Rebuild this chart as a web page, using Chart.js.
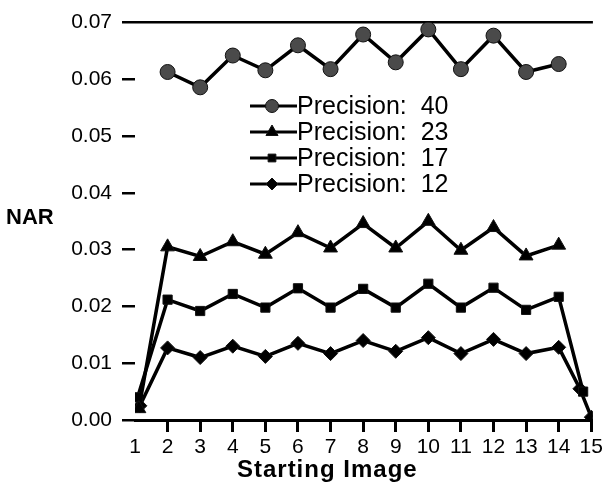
<!DOCTYPE html>
<html lang="en">

<head>
    <meta charset="UTF-8">
    <meta name="viewport" content="width=device-width, initial-scale=1.0">
    <script src="https://cdn.jsdelivr.net/npm/chart.js"></script>
    <title>NAR vs Starting Image</title>
    <style>
        body { margin: 0; background: #fff; }
        .graph { width: 606px; height: 489px; }
    </style>
</head>

<body>
    <div class="graph">
        <canvas id="myChartCanvas"></canvas>
    </div>
</body>

</html>
<script>

    // valores
    const xTicks = [1, 2, 3, 4, 5, 6, 7, 8, 9, 10, 11, 12, 13, 14, 15];
    const yTicks = [0, 0.01, 0.02, 0.03, 0.04, 0.05, 0.06, 0.07];

    const p40X = [2, 3, 4, 5, 6, 7, 8, 9, 10, 11, 12, 13, 14];
    const p40Y = [0.0613, 0.0586, 0.0642, 0.0616, 0.0660, 0.0618, 0.0679, 0.0630, 0.0688, 0.0618, 0.0677, 0.0613, 0.0627];

    const p23X = [1.12, 2, 3, 4, 5, 6, 7, 8, 9, 10, 11, 12, 13, 14];
    const p23Y = [0.0020, 0.0305, 0.0288, 0.0314, 0.0292, 0.0330, 0.0303, 0.0346, 0.0303, 0.0350, 0.0299, 0.0339, 0.0289, 0.0308];

    const p17X = [1.08, 2, 3, 4, 5, 6, 7, 8, 9, 10, 11, 12, 13, 14, 14.75];
    const p17Y = [0.0040, 0.0212, 0.0192, 0.0222, 0.0198, 0.0232, 0.0198, 0.0231, 0.0198, 0.0240, 0.0198, 0.0233, 0.0194, 0.0217, 0.0050];

    const p12X = [1.15, 2, 3, 4, 5, 6, 7, 8, 9, 10, 11, 12, 13, 14, 14.65, 15];
    const p12Y = [0.0025, 0.0127, 0.0110, 0.0130, 0.0112, 0.0135, 0.0117, 0.0140, 0.0121, 0.0145, 0.0117, 0.0142, 0.0117, 0.0128, 0.0055, 0.0005];

    const seriesLabels = ['Precision:  40', 'Precision:  23', 'Precision:  17', 'Precision:  12'];

    const fonte = "'Liberation Sans', Arial, Helvetica, sans-serif";

    function pontos(xs, ys) {
        let lista = [];
        for (let i = 0; i < xs.length; i++) {
            lista.push({ x: xs[i], y: ys[i] });
        }
        return lista;
    }

    function serie(label, data, estilo, raio, fundo) {
        return {
            label: label,
            data: data,
            borderColor: '#000',
            borderWidth: 3.5,
            tension: 0,
            pointStyle: estilo,
            pointRadius: raio,
            pointHoverRadius: raio,
            pointBackgroundColor: fundo,
            pointBorderColor: '#111',
            pointBorderWidth: 1
        };
    }

    // textos soltos (NAR, titulo do eixo x) e legenda dentro do grafico
    const extras = {
        id: 'extras',
        afterDraw(chart) {
            const ctx = chart.ctx;
            const x = chart.scales.x;
            const y = chart.scales.y;
            ctx.save();
            ctx.fillStyle = '#000';
            ctx.font = 'bold 22px ' + fonte;
            ctx.textBaseline = 'middle';
            ctx.textAlign = 'left';
            ctx.fillText('NAR', 6, y.getPixelForValue(0.0356));
            ctx.font = 'bold 24px ' + fonte;
            ctx.letterSpacing = '1px';
            ctx.textAlign = 'center';
            ctx.fillText('Starting Image', x.getPixelForValue(6.9), 470);
            ctx.letterSpacing = '0px';

            // legenda
            const linhas = [106, 132, 158, 184];
            chart.data.datasets.forEach(function (ds, i) {
                const ly = linhas[i];
                ctx.strokeStyle = '#000';
                ctx.lineWidth = 3;
                ctx.beginPath();
                ctx.moveTo(250, ly);
                ctx.lineTo(297, ly);
                ctx.stroke();
                ctx.fillStyle = ds.pointBackgroundColor;
                ctx.strokeStyle = '#111';
                ctx.lineWidth = 1;
                Chart.helpers.drawPoint(ctx, {
                    pointStyle: ds.pointStyle,
                    radius: ds.pointRadius - 1,
                    rotation: 0,
                    borderWidth: 1
                }, 272, ly);
                ctx.fillStyle = '#000';
                ctx.font = '25px ' + fonte;
                ctx.textAlign = 'left';
                ctx.fillText(ds.label, 297, ly + 1);
            });
            ctx.restore();
        }
    };

    function plotarGrafico() {
        const dados = {
            datasets: [
                serie(seriesLabels[0], pontos(p40X, p40Y), 'circle', 7.5, '#4a4a4a'),
                serie(seriesLabels[1], pontos(p23X, p23Y), 'triangle', 8, '#000'),
                serie(seriesLabels[2], pontos(p17X, p17Y), 'rect', 6.5, '#000'),
                serie(seriesLabels[3], pontos(p12X, p12Y), 'rectRot', 7, '#000')
            ]
        };

        const config = {
            type: 'line',
            data: dados,
            plugins: [extras],
            options: {
                responsive: false,
                animation: false,
                layout: {
                    padding: { top: 20, right: 11, left: 0, bottom: 0 }
                },
                plugins: {
                    legend: { display: false },
                    tooltip: { enabled: false }
                },
                scales: {
                    x: {
                        type: 'linear',
                        min: 1,
                        max: 15.05,
                        afterBuildTicks: function (scale) {
                            scale.ticks = xTicks.map(function (v) { return { value: v }; });
                        },
                        afterFit: function (scale) {
                            scale.height = 69;
                        },
                        ticks: {
                            color: '#000',
                            padding: 3,
                            maxRotation: 0,
                            font: { family: fonte, size: 21 },
                            callback: function (v) { return String(v); }
                        },
                        grid: {
                            drawOnChartArea: false,
                            drawTicks: true,
                            tickLength: 12,
                            tickWidth: 3,
                            tickColor: function (c) {
                                return c.index === 0 ? 'rgba(0,0,0,0)' : '#000';
                            }
                        },
                        border: { display: true, color: '#000', width: 3 }
                    },
                    y: {
                        min: 0,
                        max: 0.07,
                        afterBuildTicks: function (scale) {
                            scale.ticks = yTicks.map(function (v) { return { value: v }; });
                        },
                        afterFit: function (scale) {
                            scale.width = 135;
                        },
                        ticks: {
                            color: '#000',
                            padding: 10,
                            font: { family: fonte, size: 21 },
                            callback: function (v) { return Number(v).toFixed(2); }
                        },
                        grid: {
                            drawOnChartArea: true,
                            drawTicks: true,
                            tickLength: 13,
                            tickWidth: 2.5,
                            tickColor: '#000',
                            lineWidth: 2.5,
                            color: function (c) {
                                return (c.tick && Math.abs(c.tick.value - 0.07) < 1e-9) ? '#000' : 'rgba(0,0,0,0)';
                            }
                        },
                        border: { display: false }
                    }
                }
            }
        };

        const canvas = document.getElementById('myChartCanvas');
        canvas.width = 606;
        canvas.height = 489;
        let myChart = new Chart(canvas, config);
    }

    plotarGrafico();

</script>
